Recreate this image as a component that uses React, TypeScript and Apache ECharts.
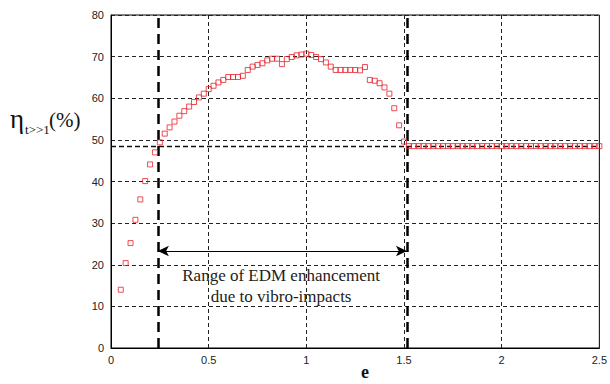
import { useEffect, useRef } from "react";
import * as echarts from "echarts";

// Eccentricity values e and the long-time efficiency (%) measured at each one
const eValues = [
  0.05, 0.075, 0.1, 0.125, 0.15, 0.175, 0.2, 0.225, 0.25, 0.275,
  0.3, 0.325, 0.35, 0.375, 0.4, 0.425, 0.45, 0.475, 0.5, 0.525,
  0.55, 0.575, 0.6, 0.625, 0.65, 0.675, 0.7, 0.725, 0.75, 0.775,
  0.8, 0.825, 0.85, 0.875, 0.9, 0.925, 0.95, 0.975, 1.0, 1.025,
  1.05, 1.075, 1.1, 1.125, 1.15, 1.175, 1.2, 1.225, 1.25, 1.275,
  1.3, 1.325, 1.35, 1.375, 1.4, 1.425, 1.45, 1.475, 1.5,
  1.525, 1.55, 1.575, 1.6, 1.625, 1.65, 1.675, 1.7, 1.725, 1.75,
  1.775, 1.8, 1.825, 1.85, 1.875, 1.9, 1.925, 1.95, 1.975, 2.0,
  2.025, 2.05, 2.075, 2.1, 2.125, 2.15, 2.175, 2.2, 2.225, 2.25,
  2.275, 2.3, 2.325, 2.35, 2.375, 2.4, 2.425, 2.45, 2.475, 2.5,
];
const etaValues = [
  14.0, 20.4, 25.2, 30.8, 35.7, 40.1, 44.1, 47.0, 49.4, 51.5,
  53.0, 54.4, 55.8, 56.9, 58.0, 59.1, 60.2, 61.1, 62.2, 63.0,
  63.8, 64.4, 65.1, 65.1, 65.1, 65.4, 66.8, 67.6, 68.0, 68.4,
  69.1, 69.5, 69.5, 68.2, 69.4, 69.9, 70.3, 70.5, 70.7, 70.4,
  69.9, 69.4, 68.6, 67.6, 66.8, 66.8, 66.8, 66.8, 66.8, 66.7,
  67.5, 64.4, 64.2, 63.6, 62.6, 61.1, 57.6, 53.5, 49.6,
  48.5, 48.5, 48.5, 48.5, 48.5, 48.5, 48.5, 48.5, 48.5, 48.5,
  48.5, 48.5, 48.5, 48.5, 48.5, 48.5, 48.5, 48.5, 48.5, 48.5,
  48.5, 48.5, 48.5, 48.5, 48.5, 48.5, 48.5, 48.5, 48.5, 48.5,
  48.5, 48.5, 48.5, 48.5, 48.5, 48.5, 48.5, 48.5, 48.5, 48.5,
];

// Reference levels and the enhancement range
const plateauLevel = 48.5;
const rangeStart = 0.24;
const rangeEnd = 1.515;
const arrowLevel = 23.3;
const rangeText = ["Range of EDM enhancement", "due to vibro-impacts"];
const textAnchor = [0.871, 14.8];

export default function App() {
  const ref = useRef<HTMLDivElement>(null);

  useEffect(() => {
    const chart = echarts.init(ref.current!, null, { renderer: "svg" });
    const points = eValues.map((e, i) => [e, etaValues[i]]);
    const tickLabel = { fontFamily: "Liberation Sans", fontSize: 11, color: "#222" };
    const gridLine = { show: true, lineStyle: { color: "#222", width: 1, type: [4, 3] } };

    chart.setOption({
      animation: false,
      backgroundColor: "#fff",
      grid: {
        left: 111, right: 5, top: 15, bottom: 36,
        show: true, borderColor: "#000", borderWidth: 1,
      },
      xAxis: {
        type: "value", min: 0, max: 2.5, interval: 0.5,
        axisLine: { show: true, lineStyle: { color: "#000" } },
        axisTick: { show: false },
        axisLabel: { ...tickLabel, margin: 6 },
        splitLine: gridLine,
      },
      yAxis: {
        type: "value", min: 0, max: 80, interval: 10,
        axisLine: { show: true, lineStyle: { color: "#000" } },
        axisTick: { show: false },
        axisLabel: { ...tickLabel, margin: 7 },
        splitLine: gridLine,
      },
      series: [
        {
          type: "scatter",
          data: points,
          symbol: "rect",
          symbolSize: 5,
          itemStyle: { color: "rgba(255,255,255,0)", borderColor: "#e8202a", borderWidth: 1 },
          z: 5,
          markLine: {
            silent: true,
            symbol: "none",
            label: { show: false },
            data: [
              [
                { coord: [0, plateauLevel], lineStyle: { color: "#111", width: 1.3, type: [5, 3] } },
                { coord: [2.5, plateauLevel] },
              ],
              [
                { coord: [rangeStart, 0], lineStyle: { color: "#000", width: 2.5, type: [10, 6] } },
                { coord: [rangeStart, 80] },
              ],
              [
                { coord: [rangeEnd, 0], lineStyle: { color: "#000", width: 2.5, type: [10, 6] } },
                { coord: [rangeEnd, 80] },
              ],
            ],
          },
        },
        {
          type: "line",
          data: [],
          markLine: {
            silent: true,
            symbol: ["arrow", "arrow"],
            symbolSize: [8, 11],
            label: { show: false },
            lineStyle: { color: "#000", width: 1, type: "solid" },
            data: [[{ coord: [rangeStart, arrowLevel] }, { coord: [rangeEnd, arrowLevel] }]],
          },
        },
      ],
    });

    const [tx, ty] = chart.convertToPixel({ gridIndex: 0 }, textAnchor) as number[];
    chart.setOption({
      graphic: [
        {
          type: "text", x: tx, y: ty, z: 10,
          style: {
            text: rangeText.join("\n"),
            fontFamily: "Liberation Serif", fontSize: 17, lineHeight: 21,
            fill: "#222", align: "center", verticalAlign: "middle",
          },
        },
        {
          type: "text", x: 10, y: 119, z: 10,
          style: { text: "η", fontFamily: "Liberation Serif", fontSize: 27, fill: "#111", verticalAlign: "middle" },
        },
        {
          type: "text", x: 25, y: 129, z: 10,
          style: { text: "t>>1", fontFamily: "Liberation Serif", fontSize: 13, fill: "#111", verticalAlign: "middle" },
        },
        {
          type: "text", x: 49, y: 120, z: 10,
          style: { text: "(%)", fontFamily: "Liberation Serif", fontSize: 21, fill: "#111", verticalAlign: "middle" },
        },
        {
          type: "text", x: 365, y: 372, z: 10,
          style: {
            text: "e", fontFamily: "Liberation Serif", fontSize: 18, fontWeight: "bold",
            fill: "#111", align: "center", verticalAlign: "middle",
          },
        },
      ],
    });

    return () => chart.dispose();
  }, []);

  return (
    <div
      ref={ref}
      style={{ position: "fixed", left: 0, top: 0, width: 610, height: 384, background: "#fff" }}
    />
  );
}
